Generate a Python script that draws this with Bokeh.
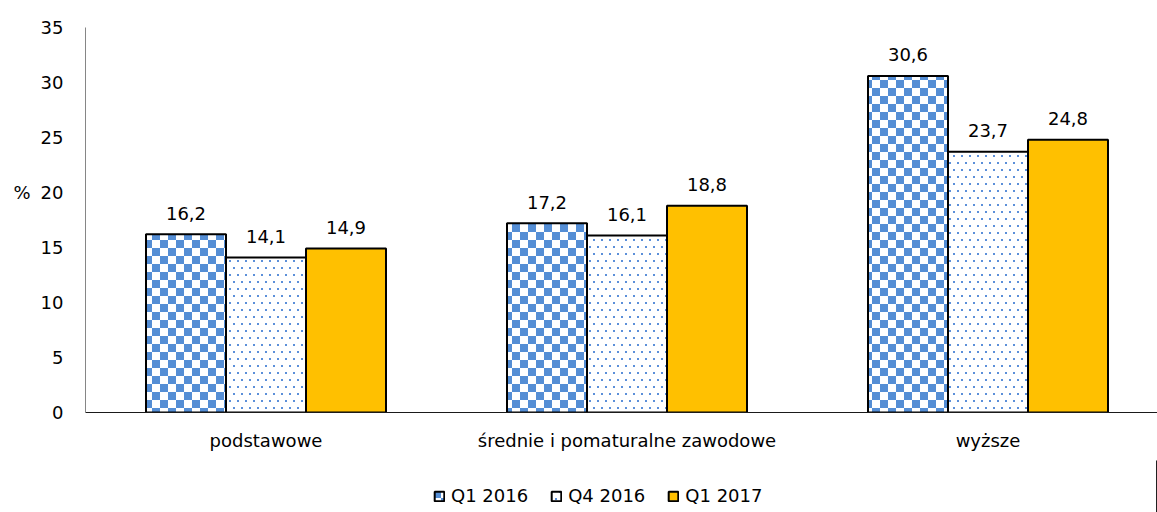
import zlib, struct, base64
import numpy as np
from bokeh.plotting import figure
from bokeh.layouts import column
from bokeh.models import (Range1d, FixedTicker, Legend, LegendItem, LinearAxis,
                          ColumnDataSource, ImageURLTexture)
from bokeh.core.properties import value
from bokeh.embed import file_html
from bokeh.resources import INLINE

# ---------------- data ----------------
categories = ["podstawowe", "średnie i pomaturalne zawodowe", "wyższe"]
series_names = ["Q1 2016", "Q4 2016", "Q1 2017"]
q1_2016 = [16.2, 17.2, 30.6]
q4_2016 = [14.1, 16.1, 23.7]
q1_2017 = [14.9, 18.8, 24.8]
y_ticks = [0, 5, 10, 15, 20, 25, 30, 35]
unit_tick = [20]
unit_label = "%"

# ---------------- textures ----------------
def png_uri(w, h, fn):
    rows = []
    for y in range(h):
        row = bytearray(b"\x00")
        for x in range(w):
            row += bytes(fn(x, y))
        rows.append(bytes(row))
    raw = b"".join(rows)

    def chunk(t, d):
        c = struct.pack(">I", len(d)) + t + d
        return c + struct.pack(">I", zlib.crc32(t + d) & 0xffffffff)

    png = (b"\x89PNG\r\n\x1a\n"
           + chunk(b"IHDR", struct.pack(">IIBBBBB", w, h, 8, 6, 0, 0, 0))
           + chunk(b"IDAT", zlib.compress(raw))
           + chunk(b"IEND", b""))
    return "data:image/png;base64," + base64.b64encode(png).decode()

BLUE = (85, 142, 213, 255)
WHITE = (255, 255, 255, 255)

def checker(x, y):
    return BLUE if ((x // 8) + (y // 8)) % 2 == 0 else WHITE

def dots(x, y):
    if (x in (1, 2) and y in (1, 2)) or (x in (5, 6) and y in (8, 9)):
        return (91, 143, 217, 255)
    return WHITE

checker_tex = ImageURLTexture(url=png_uri(16, 16, checker))
dots_tex = ImageURLTexture(url=png_uri(8, 14, dots))

def style_for(name):
    if name == "Q1 2016":
        return dict(fill_color="white", hatch_pattern=value("checker"),
                    hatch_extra={"checker": checker_tex})
    if name == "Q4 2016":
        return dict(fill_color="white", hatch_pattern=value("dots"),
                    hatch_extra={"dots": dots_tex})
    return dict(fill_color="#FFC000")

# ---------------- main figure ----------------
FONT = "DejaVu Sans"
FS = "18px"
px_per_cat = 361.0
W = 1157
H_MAIN, H_LEG = 460, 52
B_LEFT, B_TOP, B_BOTTOM = 85, 27, 48
frame_w = W - B_LEFT
bar_w = 80.0 / px_per_cat

p = figure(width=W, height=H_MAIN,
           x_range=Range1d(0, frame_w / px_per_cat), y_range=Range1d(0, 35),
           output_backend="svg", toolbar_location=None,
           min_border_left=B_LEFT, min_border_right=0,
           min_border_top=B_TOP, min_border_bottom=B_BOTTOM)
p.outline_line_color = None
p.xgrid.visible = False
p.ygrid.visible = False
p.background_fill_color = "white"
p.border_fill_color = "white"

centers = np.arange(len(categories)) + 0.5
offsets = [-bar_w, 0.0, bar_w]
data = [q1_2016, q4_2016, q1_2017]
for name, vals, off in zip(series_names, data, offsets):
    xs = centers + off
    src = ColumnDataSource(dict(x=xs, top=vals,
                                lab=[f"{v:.1f}".replace(".", ",") for v in vals]))
    p.vbar(x="x", top="top", width=bar_w, bottom=0, source=src,
           line_color="black", line_width=2, **style_for(name))
    p.text(x="x", y="top", text="lab", source=src, text_align="center",
           text_baseline="alphabetic", y_offset=-21,
           text_font=value(FONT), text_font_size=value(FS), text_color="black")

xa = p.xaxis[0]
xa.ticker = FixedTicker(ticks=list(centers))
xa.major_label_overrides = {float(c): cat for c, cat in zip(centers, categories)}
xa.major_tick_line_color = None
xa.minor_tick_line_color = None
xa.major_tick_out = 0
xa.axis_line_color = "#1a1a1a"
xa.major_label_standoff = 17
xa.major_label_text_font = FONT
xa.major_label_text_font_size = FS
xa.major_label_text_color = "black"

ya = p.yaxis[0]
ya.ticker = FixedTicker(ticks=y_ticks)
ya.major_tick_line_color = None
ya.minor_tick_line_color = None
ya.major_tick_out = 0
ya.axis_line_color = "#868686"
ya.major_label_standoff = 22
ya.major_label_text_font = FONT
ya.major_label_text_font_size = FS
ya.major_label_text_color = "black"

# "%" unit label next to the 20 tick
ua = LinearAxis(ticker=FixedTicker(ticks=unit_tick),
                major_label_overrides={t: unit_label for t in unit_tick},
                axis_line_color=None, major_tick_line_color=None,
                minor_tick_line_color=None, major_tick_out=0,
                major_label_standoff=7, major_label_text_font=FONT,
                major_label_text_font_size=FS, major_label_text_color="black")
p.add_layout(ua, "left")

# ---------------- legend strip ----------------
p2 = figure(width=W, height=H_LEG, x_range=Range1d(0, 1), y_range=Range1d(0, 1),
            output_backend="svg", toolbar_location=None,
            x_axis_location=None, y_axis_location=None,
            min_border_left=0, min_border_right=0,
            min_border_top=0, min_border_bottom=0)
p2.outline_line_color = None
p2.grid.visible = False
p2.background_fill_color = "white"
p2.border_fill_color = "white"

items = []
for name in series_names:
    # one proxy bar lying outside the strip's visible range, only for the legend
    r = p2.vbar(x=[10.0], top=[1.0], width=0.1, bottom=0, line_color="black",
                line_width=2, **style_for(name))
    items.append(LegendItem(label=name, renderers=[r]))

legend = Legend(items=items, orientation="horizontal", location=(348, 6),
                label_text_font=FONT, label_text_font_size=FS,
                label_text_color="black",
                glyph_width=12, glyph_height=12, label_standoff=6,
                spacing=22, border_line_color=None,
                background_fill_alpha=0, margin=0, padding=0)
p2.add_layout(legend, "center")

layout = column(p, p2, spacing=0)
open("out.html", "w").write(file_html(layout, INLINE))
